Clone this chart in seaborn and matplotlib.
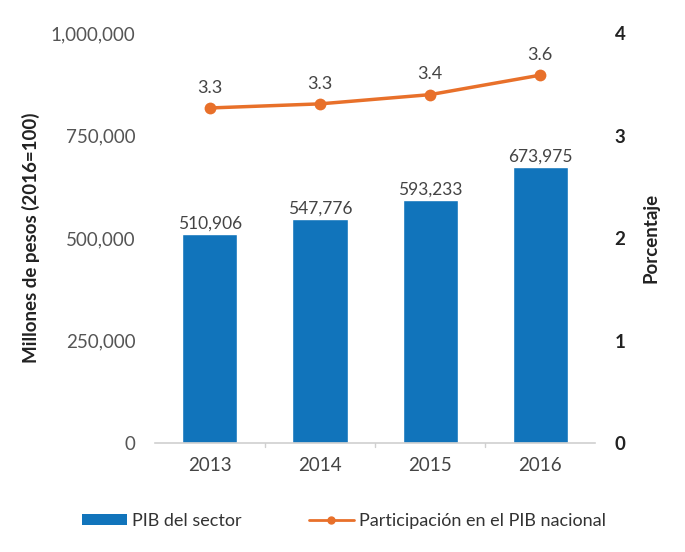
import pandas as pd
import matplotlib
matplotlib.use("Agg")
import matplotlib.pyplot as plt
import seaborn as sns
from matplotlib.lines import Line2D
from matplotlib.patches import Patch
from matplotlib.ticker import FuncFormatter

years = ['2013', '2014', '2015', '2016']
pib_sector = [510906, 547776, 593233, 673975]
participacion = [3.27, 3.31, 3.40, 3.59]

blue = '#1174bb'
orange = '#e8702a'

sns.set_theme(style="white")
plt.rcParams['font.family'] = ['Lato', 'DejaVu Sans']

df = pd.DataFrame({'anio': years, 'pib': pib_sector, 'part': participacion})

fig = plt.figure(figsize=(6.85, 5.52), dpi=100)
ax = fig.add_axes([0.226, 0.197, 0.643, 0.743])

sns.barplot(data=df, x='anio', y='pib', color=blue, width=0.5, saturation=1, ax=ax)
ax.set_xlim(-0.5, 3.5)
ax.set_ylim(0, 1000000)
ax.set_yticks([0, 250000, 500000, 750000, 1000000])
ax.yaxis.set_major_formatter(FuncFormatter(lambda v, p: f'{int(v):,}'))
ax.tick_params(axis='y', labelsize=13.5, labelcolor='#555555', length=0, pad=14)
ax.tick_params(axis='x', labelsize=13.5, labelcolor='#444444', length=0, pad=10)
ax.set_xlabel('')
ax.set_ylabel('Millones de pesos (2016=100)', fontsize=13.5, fontweight='bold', color='#222222', labelpad=8)
for s in ['top', 'left', 'right']:
    ax.spines[s].set_visible(False)
ax.spines['bottom'].set_color('#d0d0d0')
ax.spines['bottom'].set_linewidth(1.2)
for xb in [0.5, 1.5, 2.5]:
    ax.plot([xb, xb], [0, -8000], color='#d0d0d0', lw=1, clip_on=False)

for i, v in enumerate(pib_sector):
    ax.text(i, v + 6000, f'{v:,}', ha='center', va='bottom', fontsize=12.5, color='#444444')

ax2 = ax.twinx()
sns.lineplot(x=list(range(len(years))), y=participacion, color=orange, lw=2.5,
             marker='o', markersize=8.5, markeredgewidth=0, ax=ax2)
ax2.set_ylim(0, 4)
ax2.set_yticks([0, 1, 2, 3, 4])
ax2.tick_params(axis='y', labelsize=13.5, labelcolor='#222222', length=0, pad=14)
for lab in ax2.get_yticklabels():
    lab.set_fontweight('bold')
ax2.set_ylabel('Porcentaje', fontsize=13.5, fontweight='bold', color='#222222', labelpad=12)
for s in ['top', 'left', 'right', 'bottom']:
    ax2.spines[s].set_visible(False)
for i, v in enumerate(participacion):
    ax2.text(i, v + 0.12, f'{v:.1f}', ha='center', va='bottom', fontsize=13, color='#444444')

handles = [Patch(facecolor=blue, edgecolor='none'),
           Line2D([0], [0], color=orange, lw=2, marker='o', markersize=5)]
fig.legend(handles, ['PIB del sector', 'Participación en el PIB nacional'],
           loc='center', bbox_to_anchor=(0.502, 0.056), ncol=2, frameon=False,
           fontsize=13, handlelength=2.5, handleheight=0.6, columnspacing=3.7,
           handletextpad=0.3, labelcolor='#333333')

fig.savefig('out.png', dpi=100)
